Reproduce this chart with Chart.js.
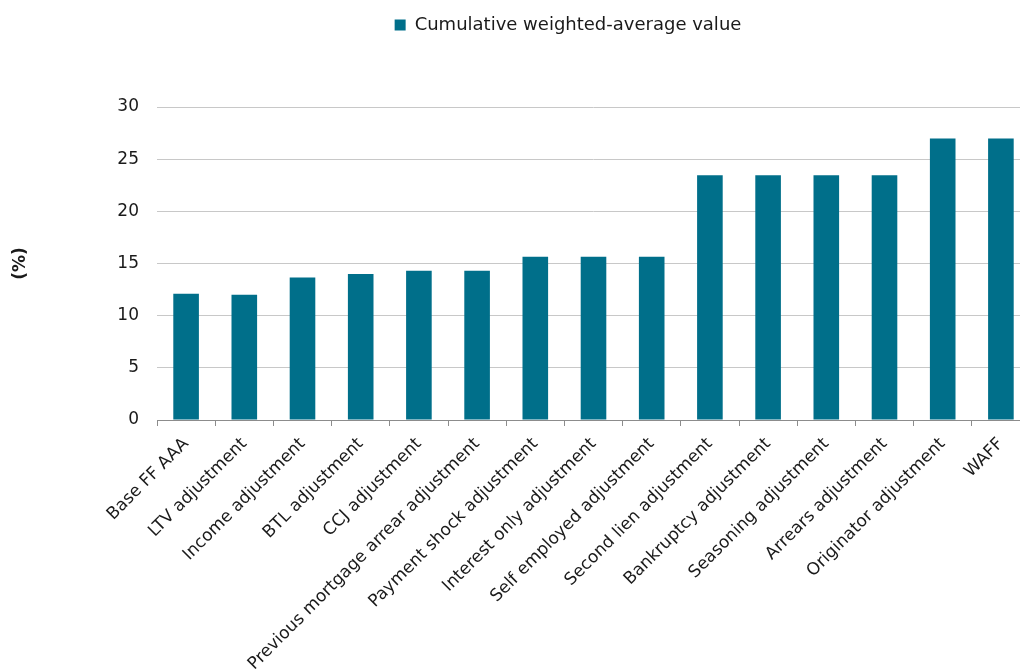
<!DOCTYPE html>
<html>
<head>
<meta charset="utf-8">
<script src="https://cdn.jsdelivr.net/npm/chart.js@4/dist/chart.umd.min.js"></script>
<style>
  html, body { margin: 0; padding: 0; background: #fff; overflow: hidden; }
  #wrap { width: 1030px; height: 671px; }
</style>
</head>
<body>
<div id="wrap"><canvas id="barChart" width="1030" height="671"></canvas></div>
<script>
// Dados do gráfico
const categorias = [
    'Base FF AAA',
    'LTV adjustment',
    'Income adjustment',
    'BTL adjustment',
    'CCJ adjustment',
    'Previous mortgage arrear adjustment',
    'Payment shock adjustment',
    'Interest only adjustment',
    'Self employed adjustment',
    'Second lien adjustment',
    'Bankruptcy adjustment',
    'Seasoning adjustment',
    'Arrears adjustment',
    'Originator adjustment',
    'WAFF'
];
const valores = [12.1, 12.0, 13.65, 14.0, 14.3, 14.3, 15.65, 15.65, 15.65, 23.45, 23.45, 23.45, 23.45, 26.97, 26.97];
const serieNome = 'Cumulative weighted-average value';
const eixoYTitulo = '(%)';

const corBarra = 'rgb(0, 111, 138)';
const corTexto = '#1a1a1a';
const fonte = "'DejaVu Sans', Arial, sans-serif";

Chart.defaults.font.family = fonte;
Chart.defaults.color = corTexto;

// Espaço extra abaixo da legenda
const legendaMargem = {
    id: 'legendaMargem',
    beforeInit(chart) {
        const fitOriginal = chart.legend.fit;
        chart.legend.fit = function fit() {
            fitOriginal.bind(chart.legend)();
            this.height = 107;
        };
    },
    afterLayout(chart) {
        // desloca a legenda um pouco para a direita
        chart.legend.left = 106;
    }
};

const ctx = document.getElementById('barChart').getContext('2d');

new Chart(ctx, {
    type: 'bar',
    data: {
        labels: categorias,
        datasets: [{
            label: serieNome,
            data: valores,
            backgroundColor: corBarra,
            borderWidth: 0,
            barPercentage: 0.44,
            categoryPercentage: 1.0
        }]
    },
    options: {
        responsive: false,
        animation: false,
        devicePixelRatio: 1,
        layout: { padding: 0 },
        plugins: {
            legend: {
                position: 'top',
                align: 'center',
                labels: {
                    boxWidth: 11,
                    boxHeight: 11,
                    padding: 16,
                    color: corTexto,
                    font: { size: 18 }
                }
            },
            tooltip: { enabled: false }
        },
        scales: {
            x: {
                offset: true,
                grid: {
                    offset: true,
                    drawOnChartArea: false,
                    drawTicks: true,
                    tickLength: 6,
                    color: '#8c8c8c'
                },
                border: { display: true, color: '#8c8c8c', width: 1 },
                ticks: {
                    autoSkip: false,
                    minRotation: 45,
                    maxRotation: 45,
                    padding: 8,
                    color: corTexto,
                    font: { size: 17 }
                },
                afterFit(scale) {
                    scale.height = 251;
                }
            },
            y: {
                min: 0,
                max: 30,
                ticks: {
                    stepSize: 5,
                    padding: 18,
                    color: corTexto,
                    font: { size: 17 }
                },
                grid: {
                    color: '#c8c8c8',
                    drawTicks: false
                },
                border: { display: false },
                title: {
                    display: true,
                    text: eixoYTitulo,
                    color: corTexto,
                    font: { size: 17, weight: 'bold' },
                    padding: { top: 10, bottom: 0 }
                },
                afterFit(scale) {
                    scale.width = 157;
                }
            }
        }
    },
    plugins: [legendaMargem]
});
</script>
</body>
</html>
